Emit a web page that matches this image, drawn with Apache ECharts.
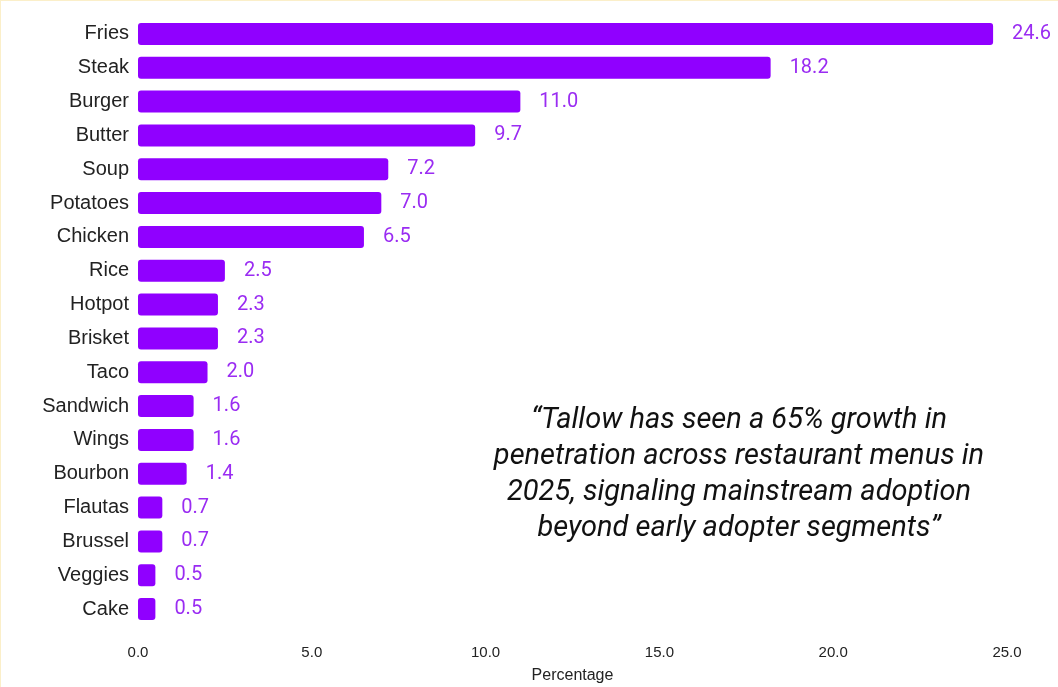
<!DOCTYPE html>
<html lang="en">
<head>
  <meta charset="UTF-8">
  <title>Tallow menu penetration</title>
  <script src="https://cdn.jsdelivr.net/npm/echarts@6.0.0/dist/echarts.min.js"></script>
  <style>
    html, body {
      margin: 0;
      padding: 0;
      width: 100%;
      height: 100%;
      background: #fff;
    }
    #main {
      position: absolute;
      left: 0;
      top: 0;
      width: 1058px;
      height: 687px;
      box-sizing: border-box;
      border-top: 1px solid #fbefc9;
      border-left: 1px solid #fbefc9;
    }
  </style>
</head>
<body>
  <div id="main"></div>

  <script>
    const items = ["Fries", "Steak", "Burger", "Butter", "Soup", "Potatoes", "Chicken", "Rice", "Hotpot",
      "Brisket", "Taco", "Sandwich", "Wings", "Bourbon", "Flautas", "Brussel", "Veggies", "Cake"];
    const percentages = [24.6, 18.2, 11.0, 9.7, 7.2, 7.0, 6.5, 2.5, 2.3, 2.3, 2.0, 1.6, 1.6, 1.4, 0.7, 0.7, 0.5, 0.5];
    const quoteLines = [
      "\u201CTallow has seen a 65% growth in",
      "penetration across restaurant menus in",
      "2025, signaling mainstream adoption",
      "beyond early adopter segments\u201D"
    ];

    const chart = echarts.init(document.getElementById('main'));
    const option = {
      animation: false,
      grid: { left: 137, right: 51, top: 16, bottom: 61, containLabel: false, outerBoundsMode: 'none' },
      xAxis: {
        type: 'value',
        min: 0,
        max: 25,
        interval: 5,
        name: 'Percentage',
        nameLocation: 'middle',
        nameGap: 42,
        nameTextStyle: { color: '#222', fontSize: 16, fontFamily: 'Liberation Sans' },
        axisLine: { show: false },
        axisTick: { show: false },
        splitLine: { show: false },
        axisLabel: {
          color: '#222',
          fontSize: 15,
          fontFamily: 'Liberation Sans',
          margin: 19,
          formatter: v => v.toFixed(1)
        }
      },
      yAxis: {
        type: 'category',
        inverse: true,
        data: items,
        axisLine: { show: false },
        axisTick: { show: false },
        axisLabel: { color: '#222', fontSize: 20, fontFamily: 'Liberation Sans', margin: 9 }
      },
      series: [{
        type: 'bar',
        data: percentages,
        barWidth: 22,
        itemStyle: { color: '#9000ff', borderRadius: 3 },
        label: {
          show: true,
          position: 'right',
          distance: 19,
          color: '#9a2cf2',
          fontSize: 20,
          fontFamily: 'Roboto',
          formatter: p => p.value.toFixed(1)
        }
      }],
      graphic: [{
        type: 'text',
        x: 738,
        y: 402,
        style: {
          text: quoteLines.join('\n'),
          textAlign: 'center',
          fill: '#111',
          font: 'italic 29px Roboto',
          lineHeight: 36
        }
      }]
    };
    chart.setOption(option);
  </script>
</body>
</html>
